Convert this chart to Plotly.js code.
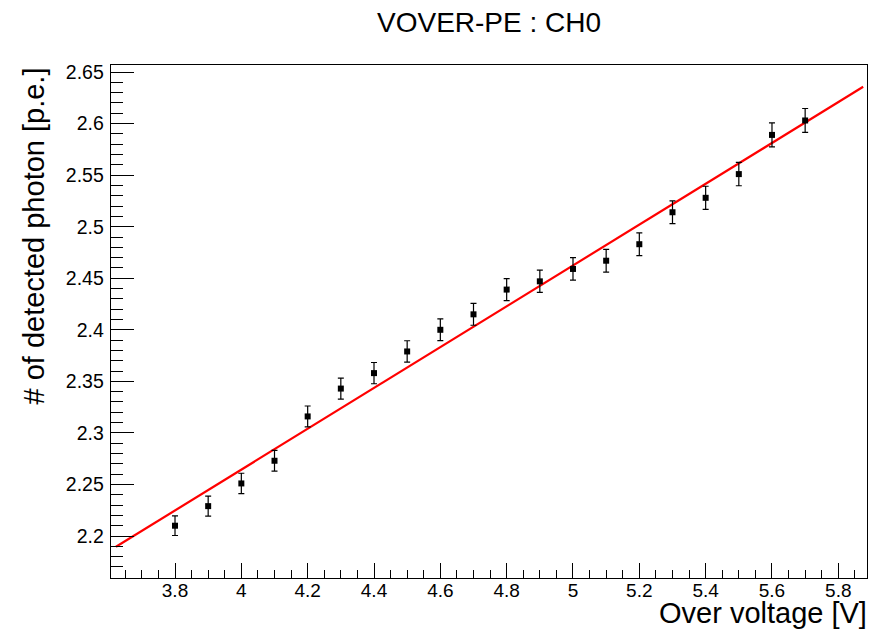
<!DOCTYPE html>
<html>
<head>
<meta charset="utf-8">
<script src="https://cdn.plot.ly/plotly-3.0.1.min.js"></script>
<style>html,body{margin:0;padding:0;background:#fff;}#chart{width:880px;height:630px;}</style>
</head>
<body>
<div id="chart"></div>
<script>
const overVoltage = [3.8, 3.9, 4.0, 4.1, 4.2, 4.3, 4.4, 4.5, 4.6, 4.7, 4.8, 4.9, 5.0, 5.1, 5.2, 5.3, 5.4, 5.5, 5.6, 5.7];
const detectedPE  = [2.210, 2.229, 2.251, 2.273, 2.316, 2.343, 2.358, 2.379, 2.400, 2.415, 2.439, 2.447, 2.459, 2.467, 2.483, 2.514, 2.528, 2.551, 2.589, 2.603];
const peError     = [0.0095, 0.0097, 0.0099, 0.0100, 0.0101, 0.0102, 0.0103, 0.0104, 0.0105, 0.0106, 0.0107, 0.0108, 0.0109, 0.0110, 0.0110, 0.0111, 0.0112, 0.0113, 0.0116, 0.0116];
const fitRange = [3.622, 5.875];
const fitIntercept = 1.4724;
const fitSlope = 0.198;
const fitY = fitRange.map(v => fitIntercept + fitSlope * v);

const FONT = '"Liberation Sans", Arial, Helvetica, sans-serif';

const traces = [
  {
    x: fitRange, y: fitY, mode: 'lines', type: 'scatter',
    line: {color: '#ff0000', width: 2.2}, hoverinfo: 'skip', showlegend: false
  },
  {
    x: overVoltage, y: detectedPE, mode: 'markers', type: 'scatter',
    marker: {symbol: 'square', size: 6, color: '#000000'},
    error_y: {type: 'data', array: peError, visible: true, color: '#000000', thickness: 1.2, width: 3},
    showlegend: false
  }
];

const layout = {
  width: 880, height: 630,
  margin: {l: 111, r: 13, t: 65, b: 52},
  paper_bgcolor: '#ffffff', plot_bgcolor: '#ffffff',
  font: {family: FONT, color: '#000000'},
  showlegend: false,
  xaxis: {
    range: [3.607, 5.8865], dtick: 0.2, tick0: 3.8,
    ticks: 'inside', ticklen: 15, tickwidth: 1, tickcolor: '#000',
    minor: {dtick: 0.05, ticks: 'inside', ticklen: 8, tickwidth: 1, tickcolor: '#000', showgrid: false},
    showgrid: false, zeroline: false,
    showline: true, linecolor: '#000', linewidth: 1.3, mirror: true,
    tickfont: {family: FONT, size: 19, color: '#000'},
    ticklabelstandoff: -5
  },
  yaxis: {
    range: [2.1593, 2.6568], dtick: 0.05, tick0: 2.2,
    ticks: 'inside', ticklen: 23, tickwidth: 1, tickcolor: '#000',
    minor: {dtick: 0.01, ticks: 'inside', ticklen: 12, tickwidth: 1, tickcolor: '#000', showgrid: false},
    showgrid: false, zeroline: false,
    showline: true, linecolor: '#000', linewidth: 1.3, mirror: true,
    tickfont: {family: FONT, size: 19.5, color: '#000'},
    ticklabelstandoff: 2
  },
  annotations: [
    {text: 'VOVER-PE : CH0', xref: 'paper', yref: 'paper', x: 0.5, y: 1, xanchor: 'center', yanchor: 'bottom',
     yshift: 25, showarrow: false, font: {family: FONT, size: 28, color: '#000'}},
    {text: 'Over voltage [V]', xref: 'paper', yref: 'paper', x: 1, y: 0, xanchor: 'right', yanchor: 'top',
     yshift: -17, xshift: 2, showarrow: false, font: {family: FONT, size: 29, color: '#000'}},
    {text: '# of detected photon [p.e.]', xref: 'paper', yref: 'paper', x: 0, y: 1, xanchor: 'left', yanchor: 'top',
     xshift: -96, yshift: -1, textangle: -90, showarrow: false, font: {family: FONT, size: 29, color: '#000'}}
  ]
};

Plotly.newPlot('chart', traces, layout, {staticPlot: true, displayModeBar: false});
</script>
</body>
</html>
